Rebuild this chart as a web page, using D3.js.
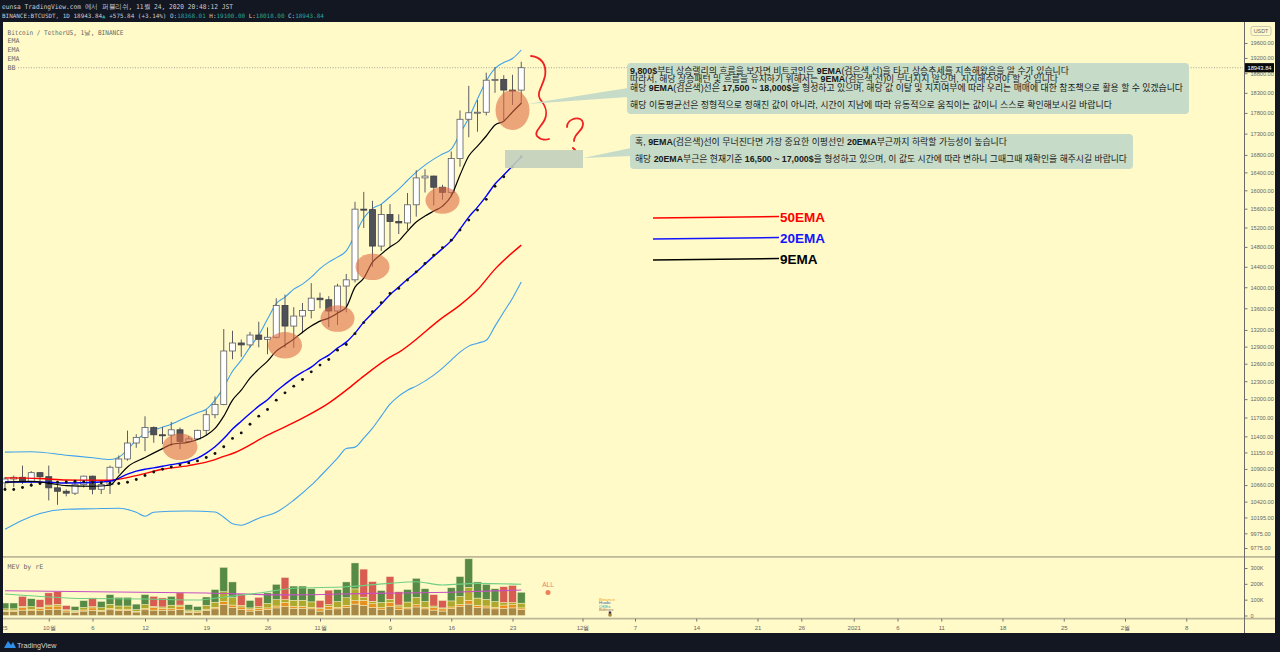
<!DOCTYPE html>
<html lang="ko">
<head>
<meta charset="utf-8">
<title>BTCUSDT 1D — EMA 9 / 20 / 50</title>
<script src="https://cdn.jsdelivr.net/npm/d3@7/dist/d3.min.js"></script>
<style>
html,body{margin:0;padding:0;background:#131722;overflow:hidden;}
svg{display:block;}
</style>
</head>
<body>
<svg id="chart" width="1280" height="652"></svg>
<script>
// ---------- BINANCE:BTCUSDT daily candles ----------
const days = [
  "2020-09-26","2020-09-27","2020-09-28","2020-09-29","2020-09-30",
  "2020-10-01","2020-10-02","2020-10-03","2020-10-04","2020-10-05","2020-10-06","2020-10-07","2020-10-08","2020-10-09","2020-10-10",
  "2020-10-11","2020-10-12","2020-10-13","2020-10-14","2020-10-15","2020-10-16","2020-10-17","2020-10-18","2020-10-19","2020-10-20",
  "2020-10-21","2020-10-22","2020-10-23","2020-10-24","2020-10-25","2020-10-26","2020-10-27","2020-10-28","2020-10-29","2020-10-30","2020-10-31",
  "2020-11-01","2020-11-02","2020-11-03","2020-11-04","2020-11-05","2020-11-06","2020-11-07","2020-11-08","2020-11-09","2020-11-10",
  "2020-11-11","2020-11-12","2020-11-13","2020-11-14","2020-11-15","2020-11-16","2020-11-17","2020-11-18","2020-11-19","2020-11-20",
  "2020-11-21","2020-11-22","2020-11-23","2020-11-24"
];
const open = [10692,10750,10775,10709,10844,10784,10620,10570,10542,10666,10792,10599,10666,10925,11050,
  11296,11384,11540,11425,11420,11504,11320,11360,11495,11745,11913,12823,12965,12931,13108,13031,13068,13654,13271,13455,13560,
  13791,13761,13549,14023,14144,15590,15580,14817,15475,15328,15297,15684,16276,16317,16068,15955,16716,17645,17804,17817,
  18621,18642,18370,18368.01];
const high = [10779,10800,10950,10867,10855,10950,10664,10598,10700,10800,10800,10681,10950,11104,11491,
  11434,11720,11557,11550,11630,11540,11402,11505,11823,12045,13217,13185,13027,13165,13350,13246,13789,13859,13620,13700,14080,
  13895,13828,14067,14259,15750,15965,15770,15700,15700,15480,15940,16450,16470,16327,16123,16880,17860,18476,18120,18815,
  18965,18750,18760,19100];
const low = [10594,10630,10676,10635,10665,10437,10374,10496,10516,10624,10525,10530,10530,10830,11025,
  11221,11170,11300,11280,11250,11200,11300,11340,11412,11688,11900,12678,12720,12885,12888,12765,13048,12880,12880,13140,13412,
  13600,13250,13290,13525,14093,15190,14400,14717,14805,15065,15150,15430,15952,15670,15793,15870,16530,17214,17345,17740,
  18300,17620,17996,18018];
const close = [10750,10775,10709,10844,10784,10620,10570,10542,10666,10792,10599,10666,10925,11050,11296,
  11384,11540,11425,11420,11504,11320,11360,11495,11745,11913,12823,12965,12931,13108,13031,13068,13654,13271,13455,13560,13791,
  13761,13549,14023,14144,15590,15580,14817,15475,15328,15297,15684,16276,16317,16068,15955,16716,17645,17804,17817,18621,
  18642,18370,18368,18943.84];

// ---------- moving averages (day index -> value) ----------
const ema9Idx = [0,3,5,7,10,12,13,14,16,18,19,21,23,24,25,26,27,28,29,30,31,32,33,34,35,36,37,38,39,40,41,42,43,44,45,46,47,48,49,50,51,52,53,54,55,56,57,58,59];
const ema9 = [10702,10716,10688,10651,10643,10658,10792,10930,11073,11209,11275,11310,11419,11525,11722,11983,12149,12352,12506,12644,12820,12926,13034,13160,13270,13362,13417,13510,13622,14002,14176,14493,14653,14796,14918,15126,15315,15442,15549,15656,15874,16340,16774,17006,17243,17506,17599,17822,18038];

const ema20Idx = [0,4,7,11,12,13,14,15,16,17,18,19,21,22,23,24,25,26,27,28,29,30,31,32,33,34,35,36,37,38,39,40,41,42,43,44,45,46,47,48,49,50,51,52,53,54,55,56,57,58,59];
const ema20 = [10706,10706,10691,10706,10716,10760,10821,10866,10896,10915,10941,10964,11016,11062,11139,11237,11365,11515,11641,11765,11885,11990,12132,12250,12360,12454,12540,12662,12750,12873,12980,13142,13343,13510,13678,13858,14002,14156,14295,14453,14613,14765,14928,15168,15421,15634,15874,16139,16340,16544,16750];

const ema50Idx = [0,4,7,12,15,18,21,24,25,26,30,34,37,39,41,44,45,50,52,54,56,59];
const ema50 = [10766,10757,10735,10732,10800,10895,10950,11040,11090,11134,11419,11690,11935,12149,12386,12714,12800,13427,13660,13950,14354,14837];

// ---------- Bollinger Bands (20) ----------
const bbBasis = [10595,10595,10625,10658,10683,10692,10702,10706,10716,10709,
  10702,10695,10688,10683,10702,10742,10802,10855,10895,10930,
  10961,10991,11021,11073,11134,11237,11368,11455,11593,11722,
  11830,11983,12104,12217,12330,12460,12576,12674,12838,12939,
  13133,13334,13534,13703,13881,13978,14139,14300,14467,14633,
  14786,14938,15147,15357,15570,15802,16090,16303,16528,16757];
const bbUpperIdx = [0,3,7,10,12,13,14,15,16,17,18,19,21,22,23,24,25,26,27,28,29,30,31,32,33,34,35,36,37,38,39,40,41,42,43,44,45,46,47,48,49,50,51,52,53,54,55,56,57,58,59];
const bbUpper = [11155,11160,11108,11070,11042,11077,11193,11341,11442,11498,11545,11593,11722,11778,11835,11983,12200,12471,12662,12891,13106,13399,13688,13810,13963,14060,14195,14364,14493,14593,14718,15044,15400,15602,15699,15859,16028,16218,16407,16566,16703,16819,16932,17300,17676,18148,18600,18928,19080,19185,19412];
const bbLowerIdx = [0,2,4,7,10,13,15,16,17,19,21,24,25,26,27,28,29,31,33,35,36,38,39,40,41,42,43,44,45,46,47,49,50,51,52,53,54,55,56,57,58,59];
const bbLower = [10030,10157,10251,10311,10318,10325,10268,10213,10268,10283,10287,10273,10199,10107,10087,10129,10185,10268,10440,10658,10787,11062,11210,11232,11372,11530,11722,11917,12049,12149,12217,12403,12523,12662,12802,12909,12962,13015,13270,13529,13791,14100];

// ---------- multi-exchange volume (thousands) ----------
const volTotal = [79,79,121,106,100,143,150,63,57,94, 111,89,132,115,115,72,132,121,111,121,
  143,68,57,117,164,304,212,137,95,115, 143,197,240,186,186,169,95,160,164,212,
  332,293,214,158,246,150,164,235,169,132, 95,175,246,358,212,197,169,182,190,147];
const volBase = [26,26,34,30,30,38,40,22,20,28, 32,26,36,32,32,22,36,34,32,34,
  38,20,18,32,42,70,52,38,28,32, 38,48,56,46,46,42,28,40,42,50,
  72,64,50,40,56,38,42,54,42,34, 28,44,56,72,50,48,42,46,48,38];
const volOrange = [6,6,16,8,14,18,20,8,5,7, 16,7,9,8,8,5,9,16,14,9,
  18,5,5,8,10,18,14,16,12,14, 10,12,26,12,12,10,14,18,10,14,
  22,32,24,10,26,16,9,14,10,16, 14,10,14,24,14,12,10,20,20,10];
const volOlive = [10,10,8,18,8,10,10,6,8,16, 8,16,26,20,20,10,24,8,8,22,
  10,10,9,24,32,62,46,10,8,10, 28,40,18,38,38,34,6,10,36,48,
  74,20,16,32,20,12,34,46,36,10, 6,38,50,82,46,42,36,16,14,30];
const volMaAIdx = [0,23,32,42,51,59];
const volMaA = [156,142,130,140,147,161];
const volMaBIdx = [0,5,9,16,22,25,29,33,39,44,47,50,54,59];
const volMaB = [136,117,107,104,98,117,142,172,182,203,213,193,203,197];

// ---------- axis ticks ----------
const priceTicks = [19600,19200,18800,18300,17800,17300,16800,16400,16000,15600,15200,14800,14400,14000,13600,
  13200,12900,12600,12300,12000,11700,11400,11150,10900,10660,10420,10195,9975,9775];
const volTicks = [0,100,200,300];
const timeTickDays = ["2020-09-25","2020-10-01","2020-10-06","2020-10-12","2020-10-19","2020-10-26","2020-11-01",
  "2020-11-09","2020-11-16","2020-11-23","2020-12-01","2020-12-07","2020-12-14","2020-12-21","2020-12-26",
  "2021-01-01","2021-01-06","2021-01-11","2021-01-18","2021-01-25","2021-02-01","2021-02-08"];
const timeTickLabels = ["25","10월","6","12","19","26","11월","9","16","23","12월","7","14","21","26",
  "2021","6","11","18","25","2월","8"];

// highlighted touches of the 9 EMA: [day index, price, rx, ry]
const touches = [[20,11237,17.5,13.3],[32,12926,17,13.3],[38,13410,17,13.3],[42,14400,17,13.3],[50,15780,17,13.3],[58,17870,17,20]];

const lastPrice = 18943.84;

// ---------- setup ----------
const BG = "#fffac8", DARK = "#131722";
const svg = d3.select("#chart");
const parse = d3.utcParse("%Y-%m-%d");
const D = days.map(parse);

const x = d3.scaleUtc().domain([D[0], D[58]]).range([5, 512.5]);
const y = d3.scaleLog().domain([9775, 19600]).range([548, 43]);
const yv = d3.scaleLinear().domain([0, 300]).range([615.5, 568]);

const PL = 3, PR = 1243;

svg.append("rect").attr("width", 1280).attr("height", 652).attr("fill", DARK);
svg.append("rect").attr("x", PL).attr("y", 22).attr("width", 1272).attr("height", 611).attr("fill", BG);

const defs = svg.append("defs");
defs.append("clipPath").attr("id", "clipMain").append("rect").attr("x", PL).attr("y", 23).attr("width", PR - PL).attr("height", 532);
defs.append("clipPath").attr("id", "clipVol").append("rect").attr("x", PL).attr("y", 558).attr("width", PR - PL).attr("height", 59);
defs.append("clipPath").attr("id", "clipTime").append("rect").attr("x", PL).attr("y", 617).attr("width", PR - PL).attr("height", 16);

// ---------- header ----------
const hdr = svg.append("g").attr("font-family", "'DejaVu Sans Mono', monospace").attr("fill", "#c9ccd4");
hdr.append("text").attr("x", 2).attr("y", 9).attr("font-size", 6.6).attr("textLength", 231).attr("lengthAdjust", "spacingAndGlyphs")
  .text("eunsa TradingView.com 에서 퍼블리쉬, 11월 24, 2020 20:48:12 JST");
const l2 = hdr.append("text").attr("x", 2).attr("y", 18).attr("font-size", 5.95);
const TEAL = "#26a69a";
[["BINANCE:BTCUSDT, 1D 18943.84", null], ["▲", TEAL], [" +575.84 (+3.14%) O:", null], ["18368.01", TEAL],
 [" H:", null], ["19100.00", TEAL], [" L:", null], ["18018.00", TEAL], [" C:", null], ["18943.84", TEAL]]
 .forEach(([t, c]) => { const s = l2.append("tspan").text(t); if (c) s.attr("fill", c); });

// ---------- main pane ----------
const main = svg.append("g").attr("clip-path", "url(#clipMain)");
const line = d3.line().curve(d3.curveMonotoneX);
const pts = (idx, vals) => idx.map((k, j) => [x(D[k]), y(vals[j])]);

// last price dotted line
main.append("line").attr("x1", 18).attr("x2", PR).attr("y1", y(lastPrice)).attr("y2", y(lastPrice))
  .attr("stroke", "#8d8d8d").attr("stroke-width", 0.8).attr("stroke-dasharray", "1,1.6");

// Bollinger bands
main.append("path").attr("d", line(pts(bbUpperIdx, bbUpper))).attr("fill", "none").attr("stroke", "#3fa2ec").attr("stroke-width", 1.1);
main.append("path").attr("d", line(pts(bbLowerIdx, bbLower))).attr("fill", "none").attr("stroke", "#3fa2ec").attr("stroke-width", 1.1);

// candles
const cg = main.append("g");
const idxAll = d3.range(days.length);
cg.selectAll("line.wick").data(idxAll).join("line").attr("class", "wick")
  .attr("x1", i => x(D[i])).attr("x2", i => x(D[i]))
  .attr("y1", i => y(high[i])).attr("y2", i => y(low[i]))
  .attr("stroke", "#5b5d63").attr("stroke-width", 1);
cg.selectAll("rect.body").data(idxAll).join("rect").attr("class", "body")
  .attr("x", i => x(D[i]) - 3).attr("width", 6)
  .attr("y", i => y(Math.max(open[i], close[i])))
  .attr("height", i => Math.max(1, Math.abs(y(open[i]) - y(close[i]))))
  .attr("fill", i => close[i] >= open[i] ? "#ffffff" : "#4f5159")
  .attr("stroke", i => close[i] >= open[i] ? "#5b5d63" : "#3b3d44").attr("stroke-width", 0.8);

// moving averages
main.append("path").attr("d", line(pts(ema50Idx, ema50))).attr("fill", "none").attr("stroke", "#ff0000").attr("stroke-width", 1.4);
main.append("path").attr("d", line(pts(ema20Idx, ema20))).attr("fill", "none").attr("stroke", "#0000ff").attr("stroke-width", 1.4);
main.append("g").selectAll("circle").data(idxAll).join("circle")
  .attr("cx", i => x(D[i])).attr("cy", i => y(bbBasis[i])).attr("r", 1.45).attr("fill", "#111");
main.append("path").attr("d", line(pts(ema9Idx, ema9))).attr("fill", "none").attr("stroke", "#000").attr("stroke-width", 1.2);

// touch highlights
main.append("g").selectAll("ellipse").data(touches).join("ellipse")
  .attr("cx", d => x(D[d[0]])).attr("cy", d => y(d[1])).attr("rx", d => d[2]).attr("ry", d => d[3])
  .attr("fill", "#e06a45").attr("fill-opacity", 0.6);

// legend (top-left)
const lg = svg.append("g").attr("font-family", "'DejaVu Sans Mono', monospace").attr("font-size", 6.6).attr("fill", "#666");
lg.append("text").attr("x", 7.5).attr("y", 35).attr("textLength", 116).attr("lengthAdjust", "spacingAndGlyphs").text("Bitcoin / TetherUS, 1날, BINANCE");
["EMA", "EMA", "EMA", "BB"].forEach((t, k) => lg.append("text").attr("x", 7.5).attr("y", 43.3 + k * 8.9).text(t));

// ---------- annotations ----------
const ann = svg.append("g");
const BOX = "#c6dbc8";
// hand drawn bracket and question mark
ann.append("path").attr("d", "M531,56 C541,57 547,64 545,76 C543,86 536,93 540,99 C545,105 549,112 544,121 C540,128 533,133 538,137 C541,140 546,140 549,139")
  .attr("fill", "none").attr("stroke", "#ee2222").attr("stroke-width", 1.8).attr("stroke-linecap", "round");
ann.append("path").attr("d", "M567,127 C567,118 582,115 583,123 C584,131 574,133 574,141")
  .attr("fill", "none").attr("stroke", "#ee2222").attr("stroke-width", 1.8).attr("stroke-linecap", "round");
ann.append("path").attr("d", "M573,148 L575,150").attr("stroke", "#ee2222").attr("stroke-width", 2).attr("stroke-linecap", "round");

// target zone
ann.append("rect").attr("x", 505).attr("y", 150).attr("width", 78).attr("height", 18).attr("fill", "#c3cfbd").attr("fill-opacity", 0.9);

// callouts
ann.append("polygon").attr("points", "527,104 628,88 628,97").attr("fill", BOX);
ann.append("rect").attr("x", 627).attr("y", 63).attr("width", 562).attr("height", 51).attr("rx", 4).attr("fill", BOX);
ann.append("polygon").attr("points", "583,158 631,148 631,156").attr("fill", BOX);
ann.append("rect").attr("x", 630).attr("y", 134).attr("width", 503).attr("height", 35).attr("rx", 4).attr("fill", BOX);

const noteFont = "'Liberation Sans', 'Noto Sans CJK KR', sans-serif";
function note(xp, yp, len, size, parts) {
  const t = ann.append("text").attr("x", xp).attr("y", yp).attr("dominant-baseline", "central")
    .attr("font-family", noteFont).attr("font-size", size).attr("fill", "#1a1a1a")
    .attr("textLength", len).attr("lengthAdjust", "spacingAndGlyphs");
  parts.forEach(p => {
    const bold = p.startsWith("*");
    const s = t.append("tspan").text(bold ? p.slice(1) : p);
    if (bold) s.attr("font-weight", "bold");
  });
}
note(630, 70.8, 439, 8.6, ["*9,800$", "부터 상승랠리의 흐름을 보자면 비트코인은 ", "*9EMA", "(검은색 선)을 타고 상승추세를 지속해왔음을 알 수가 있습니다"]);
note(630, 79.2, 428, 8.6, ["따라서, 해당 상승패턴 및 흐름을 유지하기 위해서는 ", "*9EMA", "(검은색 선)이 무너지지 않으며, 지지해주어야 할 것 입니다"]);
note(630, 88.2, 553, 9.2, ["해당 ", "*9EMA", "(검은색)선은 ", "*17,500 ~ 18,000$", "을 형성하고 있으며, 해당 값 이탈 및 지지여부에 따라 우리는 매매에 대한 참조책으로 활용 할 수 있겠습니다"]);
note(630, 104.5, 482, 9.2, ["해당 이동평균선은 정형적으로 정해진 값이 아니라, 시간이 지남에 따라 유동적으로 움직이는 값이니 스스로 확인해보시길 바랍니다"]);
note(635, 142, 372, 8.8, ["혹, ", "*9EMA", "(검은색)선이 무너진다면 가장 중요한 이평선인 ", "*20EMA", "부근까지 하락할 가능성이 높습니다"]);
note(635, 159, 492, 9.2, ["해당 ", "*20EMA", "부근은 현재기준 ", "*16,500 ~ 17,000$", "을 형성하고 있으며, 이 값도 시간에 따라 변하니 그때그때 재확인을 해주시길 바랍니다"]);

// moving-average key
const key = [["50EMA", "#ff0000", 217], ["20EMA", "#1414ff", 238], ["9EMA", "#000000", 259]];
key.forEach(([t, c, yy]) => {
  ann.append("line").attr("x1", 653).attr("x2", 779).attr("y1", yy + 1).attr("y2", yy - 0.5).attr("stroke", c).attr("stroke-width", 1.5);
  ann.append("text").attr("x", 780).attr("y", yy).attr("dominant-baseline", "central")
    .attr("font-family", "'Liberation Sans', Arial, sans-serif").attr("font-weight", "bold").attr("font-size", 13.5)
    .attr("fill", c).text(t);
});

// ---------- volume pane ----------
const vol = svg.append("g").attr("clip-path", "url(#clipVol)");
const volRows = idxAll.map(i => ({
  i, base: volBase[i], orange: volOrange[i], olive: volOlive[i],
  top: volTotal[i] - volBase[i] - volOrange[i] - volOlive[i]
}));
const stack = d3.stack().keys(["base", "orange", "olive", "top"])(volRows);
const layerColor = { base: "#a88846", orange: "#e8901f", olive: "#aea92c" };
stack.forEach(layer => {
  vol.append("g").selectAll("rect").data(layer).join("rect")
    .attr("x", d => x(D[d.data.i]) - 3.9).attr("width", 7.8)
    .attr("y", d => yv(d[1])).attr("height", d => yv(d[0]) - yv(d[1]))
    .attr("fill", d => layer.key === "top"
      ? (close[d.data.i] >= open[d.data.i] ? "#578a45" : "#d85d50")
      : layerColor[layer.key])
    .attr("stroke", "#f4efc0").attr("stroke-width", 0.5);
});
const vline = d3.line().curve(d3.curveMonotoneX);
vol.append("path").attr("d", vline(volMaAIdx.map((k, j) => [x(D[k]), yv(volMaA[j])])))
  .attr("fill", "none").attr("stroke", "#c54fc4").attr("stroke-width", 1.1);
vol.append("path").attr("d", vline(volMaBIdx.map((k, j) => [x(D[k]), yv(volMaB[j])])))
  .attr("fill", "none").attr("stroke", "#6fcf86").attr("stroke-width", 1.1);

svg.append("text").attr("x", 7.5).attr("y", 569).attr("font-family", "'DejaVu Sans Mono', monospace")
  .attr("font-size", 6.6).attr("fill", "#666").text("MEV by rE");
// exchange tags
const tags = svg.append("g").attr("font-family", "'Liberation Sans', sans-serif");
tags.append("text").attr("x", 548).attr("y", 587).attr("font-size", 6.6).attr("text-anchor", "middle").attr("fill", "#f07a68").text("ALL");
tags.append("circle").attr("cx", 548).attr("cy", 592.5).attr("r", 2.5).attr("fill", "#f0805a");
[["Binance", "#f5a020", 600.5], ["Huobi", "#3a5fa8", 604.3], ["OKEx", "#26a7b5", 607.8], ["Bitfinex", "#9a6a50", 611.2]]
  .forEach(([t, c, yy]) => tags.append("text").attr("x", 599).attr("y", yy).attr("font-size", 4.4).attr("fill", c).text(t));
tags.append("rect").attr("x", 608.8).attr("y", 611.5).attr("width", 2.4).attr("height", 3).attr("fill", "#2a2060");
tags.append("circle").attr("cx", 610).attr("cy", 615).attr("r", 1.8).attr("fill", "#a8863e");

// ---------- frame, separators, axes ----------
const frame = svg.append("g");
frame.append("line").attr("x1", PL).attr("x2", 1275).attr("y1", 556.8).attr("y2", 556.8).attr("stroke", "#bdb89a").attr("stroke-width", 1.8);
frame.append("line").attr("x1", PL).attr("x2", 1275).attr("y1", 618.6).attr("y2", 618.6).attr("stroke", "#bdb89a").attr("stroke-width", 1.8);
frame.append("line").attr("x1", 1244.5).attr("x2", 1244.5).attr("y1", 22).attr("y2", 633).attr("stroke", "#6b6b6b").attr("stroke-width", 1);

function styleAxis(g, size) {
  g.select(".domain").remove();
  g.selectAll(".tick line").attr("stroke", "#777");
  g.selectAll(".tick text").attr("fill", "#666").attr("font-family", "'Liberation Sans', Arial, sans-serif").attr("font-size", size);
}
const ay = svg.append("g").attr("transform", "translate(1244.5,0)")
  .call(d3.axisRight(y).tickValues(priceTicks).tickSize(3).tickPadding(3).tickFormat(d3.format(".2f")));
styleAxis(ay, 5.6);
const av = svg.append("g").attr("transform", "translate(1244.5,0)")
  .call(d3.axisRight(yv).tickValues(volTicks).tickSize(3).tickPadding(3).tickFormat(d => d ? d + "K" : "0"));
styleAxis(av, 5.6);

const ax = svg.append("g").attr("clip-path", "url(#clipTime)").append("g").attr("transform", "translate(0,618.6)")
  .call(d3.axisBottom(x).tickValues(timeTickDays.map(parse)).tickSize(3).tickPadding(4)
    .tickFormat((d, k) => timeTickLabels[k]));
styleAxis(ax, 6);
// a label that falls off the left edge is pinned to it
ax.selectAll(".tick").each(function (d) {
  if (x(d) < PL) d3.select(this).select("text").attr("text-anchor", "end").attr("x", 7 - x(d));
});

// currency tag and last price marker
svg.append("rect").attr("x", 1251).attr("y", 26.5).attr("width", 20).attr("height", 9).attr("rx", 2)
  .attr("fill", BG).attr("stroke", "#aaa").attr("stroke-width", 0.6);
svg.append("text").attr("x", 1261).attr("y", 31.3).attr("text-anchor", "middle").attr("dominant-baseline", "central")
  .attr("font-family", "'Liberation Sans', sans-serif").attr("font-size", 5.4).attr("fill", "#666").text("USDT");
svg.append("rect").attr("x", 1245).attr("y", y(lastPrice) - 4.6).attr("width", 29).attr("height", 9.2).attr("fill", "#0b0b0b");
svg.append("text").attr("x", 1259.5).attr("y", y(lastPrice)).attr("text-anchor", "middle").attr("dominant-baseline", "central")
  .attr("font-family", "'Liberation Sans', sans-serif").attr("font-size", 5.8).attr("fill", "#fff").text(d3.format(".2f")(lastPrice));

// footer logo
const ft = svg.append("g");
ft.append("path").attr("d", "M4,648 L8,641 L11,645 L13,642 L16,648 Z").attr("fill", "#2f8fe8");
ft.append("text").attr("x", 17).attr("y", 645.5).attr("dominant-baseline", "central")
  .attr("font-family", "'Liberation Sans', sans-serif").attr("font-size", 7.2).attr("fill", "#d1d4dc").text("TradingView");
</script>
</body>
</html>
